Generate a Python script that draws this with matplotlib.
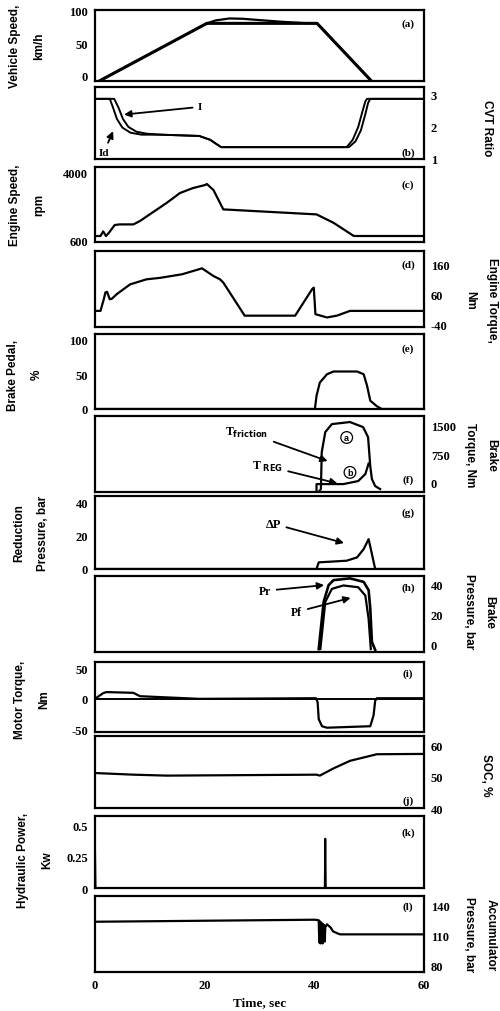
import numpy as np
import matplotlib.pyplot as plt

# -------------------------------------------------------------------
# Data (time in s)
# -------------------------------------------------------------------

# (a) vehicle speed, km/h
speed_ref_t = [1.0, 20.4, 40.5, 50.3]
speed_ref_v = [-7, 80.5, 80.5, -7]
speed_act_t = [1.0, 20.4, 22.0, 24.5, 27.0, 30.0, 34.0, 38.0, 40.5, 50.3]
speed_act_v = [-7, 80.5, 85, 88, 87.5, 85.5, 83, 81, 80.5, -7]

# (b) CVT ratio
cvt_i_t = [0, 3.5, 4.3, 5.1, 6.1, 7.6, 9.5, 12, 19, 21, 23, 46.3, 47.5, 48.5, 49.3, 49.8, 50.2, 60]
cvt_i_v = [2.88, 2.88, 2.6, 2.25, 2.0, 1.85, 1.79, 1.76, 1.72, 1.6, 1.37, 1.37, 1.55, 1.9, 2.4, 2.75, 2.88, 2.88]
cvt_id_t = [0, 2.7, 3.3, 4.0, 5.0, 6.5, 8.5, 12, 19, 21, 23, 45.9, 47.0, 48.0, 48.8, 49.3, 49.6, 60]
cvt_id_v = [2.88, 2.88, 2.6, 2.25, 1.98, 1.82, 1.76, 1.76, 1.72, 1.6, 1.37, 1.37, 1.6, 2.0, 2.5, 2.8, 2.88, 2.88]

# (c) engine speed, rpm
eng_spd_t = [0, 1.0, 1.5, 2.0, 2.5, 3.6, 4.5, 7.0, 8.2, 13.1, 15.5, 17.9, 20.1, 20.4, 21.6, 23.1, 23.4, 40.4, 41.0, 43.5, 47.2, 60]
eng_spd_v = [850, 850, 1080, 850, 1000, 1400, 1430, 1430, 1600, 2510, 3000, 3250, 3400, 3450, 3150, 2340, 2180, 1930, 1850, 1510, 850, 850]

# (d) engine torque, Nm
eng_trq_t = [0, 1.0, 1.6, 1.9, 2.2, 2.7, 3.1, 3.95, 6.4, 9.4, 11.9, 15.9, 19.2, 19.5, 21.6, 22.8, 23.4, 27.3, 36.5, 39.6, 39.9, 40.2, 42.3, 44.1, 46.5, 60]
eng_trq_v = [4, 4, 43, 66, 68, 43, 45, 60, 93, 110, 115, 127, 145, 147, 121, 110, 99, -12, -12, 77, 82, -7, -18, -12, 4, 4]

# (e) brake pedal, %
pedal_t = [0, 40.1, 40.4, 41.0, 42.3, 43.5, 47.8, 49.0, 49.6, 50.2, 51.4, 52.3, 60]
pedal_v = [0, 0, 19, 38, 50, 54, 54, 50, 34, 12, 4, 0, 0]

# (f) brake torque, Nm
t_fric_t = [40.8, 41.2, 41.35, 42.0, 43.2, 46.5, 48.9, 49.8, 50.2, 50.5, 51.1, 52.0]
t_fric_v = [-250, -178, 803, 1335, 1545, 1600, 1465, 1200, 432, 88, -98, -178]
t_reg_t = [40.4, 40.4, 45.3, 48.0, 49.3, 49.9]
t_reg_v = [-250, -45, -45, 35, 220, 500]

# (g) reduction pressure, bar
dp_t = [0, 40.4, 40.8, 45.9, 47.8, 49.0, 49.9, 51.1, 60]
dp_v = [0, 0, 4, 5, 7, 12, 18, 0, 0]

# (h) brake pressure, bar
pr_t = [40.8, 41.7, 42.6, 43.5, 46.5, 49.0, 49.9, 50.2, 50.5, 51.1]
pr_v = [-3.4, 28.5, 39.8, 43.2, 44.4, 42, 36.4, 24, 1.4, -4]
pf_t = [41.1, 42.0, 43.2, 45.3, 48.0, 49.3, 49.9, 50.3]
pf_v = [-3.4, 28.5, 37.3, 39.6, 38.4, 32.8, 17, -3.4]

# (i) motor torque, Nm
mot_t = [0.3, 1.5, 2.1, 7.0, 8.2, 19.0, 40.3, 40.6, 40.8, 41.4, 42.3, 50.2, 50.8, 51.1, 51.4, 60]
mot_v = [2, 9.3, 11, 9.8, 4.3, 0, 1, -5.5, -33, -44.6, -47, -44.6, -27, -3, 1, 1]

# (j) SOC, %
soc_t = [0.3, 7.0, 13.1, 40.4, 41.0, 43.5, 46.5, 51.4, 60]
soc_v = [51.1, 50.6, 50.3, 50.6, 50.3, 52.6, 55, 57.1, 57.2]

# (k) hydraulic power, kW
hyd_t = [0, 0.1, 41.9, 42.0, 42.1, 60]
hyd_v = [0.33, 0, 0, 0.395, 0, 0]

# (l) accumulator pressure, bar
acc_t = [0.3, 40.1, 40.8, 40.9, 41.0, 41.1, 41.2, 41.3, 41.4, 41.5, 41.6, 41.7, 41.8, 41.9,
         42.0, 42.3, 43.0, 43.4, 44.2, 44.7, 60]
acc_v = [123.5, 125.5, 125, 103, 124, 102, 123, 103, 122, 102, 121, 104, 120, 104,
         118, 121, 117.6, 114, 112, 111, 111]

# -------------------------------------------------------------------
# Layout (pixel rows of each panel in a 500x1012 figure)
# -------------------------------------------------------------------
W, H = 500, 1012
X0, X1 = 95, 424
panel_rows = [(11, 82), (88, 160), (168, 243), (252, 328), (335, 410), (417, 493),
              (497, 570), (577, 653), (663, 733), (737, 809), (817, 889), (897, 973)]

tick_font = dict(family="Liberation Serif", weight="bold", size=9)
label_font = dict(family="Liberation Sans", weight="bold", size=8.5)

fig = plt.figure(figsize=(W / 100, H / 100), dpi=100)
axes = []
for top, bot in panel_rows:
    ax = fig.add_axes([X0 / W, 1 - bot / H, (X1 - X0) / W, (bot - top) / H])
    ax.set_xlim(0, 60)
    for s in ax.spines.values():
        s.set_linewidth(1.6)
    ax.tick_params(length=0, pad=5)
    ax.set_xticks([])
    axes.append(ax)


def left_ticks(ax, ticks, labels):
    ax.set_yticks(ticks)
    ax.set_yticklabels(labels, **tick_font)


def right_ticks(ax, ticks, labels):
    ax.yaxis.tick_right()
    ax.set_yticks(ticks)
    ax.set_yticklabels(labels, **tick_font)


def tag(ax, s, y):
    ax.text(0.951, y, s, transform=ax.transAxes, ha="center", va="center",
            family="Liberation Serif", weight="bold", size=8)


lw = 1.6
arrow = dict(arrowstyle="-|>", color="black", lw=1.3, mutation_scale=10)

# (a)
ax = axes[0]
ax.plot(speed_ref_t, speed_ref_v, color="black", lw=2.2)
ax.plot(speed_act_t, speed_act_v, color="black", lw=1.6)
ax.set_ylim(-8, 101)
left_ticks(ax, [0, 50, 100], ["0", "50", "100"])
tag(ax, "(a)", 0.82)

# (b)
ax = axes[1]
ax.plot(cvt_i_t, cvt_i_v, color="black", lw=1.4)
ax.plot(cvt_id_t, cvt_id_v, color="black", lw=1.4)
ax.set_ylim(1.0, 3.25)
right_ticks(ax, [1, 2, 3], ["1", "2", "3"])
tag(ax, "(b)", 0.1)
ax.annotate("I", xy=(4.8, 2.38), xytext=(19.2, 2.63), ha="center", va="center",
            family="Liberation Serif", weight="bold", size=8, arrowprops=arrow)
ax.annotate("Id", xy=(3.5, 1.95), xytext=(1.6, 1.2), ha="center", va="center",
            family="Liberation Serif", weight="bold", size=8, arrowprops=arrow)

# (c)
ax = axes[2]
ax.plot(eng_spd_t, eng_spd_v, color="black", lw=lw)
ax.set_ylim(550, 4300)
left_ticks(ax, [600, 4000], ["600", "4000"])
tag(ax, "(c)", 0.77)

# (d)
ax = axes[3]
ax.plot(eng_trq_t, eng_trq_v, color="black", lw=lw)
ax.set_ylim(-50, 205)
right_ticks(ax, [-40, 60, 160], ["-40", "60", "160"])
tag(ax, "(d)", 0.83)

# (e)
ax = axes[4]
ax.plot(pedal_t, pedal_v, color="black", lw=lw)
ax.set_ylim(0, 108)
left_ticks(ax, [0, 50, 100], ["0", "50", "100"])
tag(ax, "(e)", 0.81)

# (f)
ax = axes[5]
ax.plot(t_fric_t, t_fric_v, color="black", lw=lw)
ax.plot(t_reg_t, t_reg_v, color="black", lw=lw)
ax.set_ylim(-255, 1760)
right_ticks(ax, [0, 750, 1500], ["0", "750", "1500"])
tag(ax, "(f)", 0.17)
ax.annotate(r"T$_{\mathbf{friction}}$", xy=(42.9, 540), xytext=(27.7, 1333),
            ha="center", va="center", family="Liberation Serif", weight="bold",
            size=8.5, arrowprops=arrow)
ax.annotate(r"T $_{\mathbf{REG}}$", xy=(44.7, -45), xytext=(31.4, 432),
            ha="center", va="center", family="Liberation Serif", weight="bold",
            size=8.5, arrowprops=arrow)
circ = dict(boxstyle="circle,pad=0.15", fc="white", ec="black", lw=0.9)
ax.text(45.9, 1190, "a", ha="center", va="center", size=6.5, weight="bold",
        family="Liberation Sans", bbox=circ)
ax.text(46.5, 265, "b", ha="center", va="center", size=6.5, weight="bold",
        family="Liberation Sans", bbox=circ)

# (g)
ax = axes[6]
ax.plot(dp_t, dp_v, color="black", lw=lw)
ax.set_ylim(0, 44)
left_ticks(ax, [0, 20, 40], ["0", "20", "40"])
tag(ax, "(g)", 0.78)
ax.annotate("\u0394P", xy=(45.9, 15.2), xytext=(32.5, 27.3), ha="center", va="center",
            family="Liberation Serif", weight="bold", size=9, arrowprops=arrow)

# (h)
ax = axes[7]
ax.plot(pr_t, pr_v, color="black", lw=1.9)
ax.plot(pf_t, pf_v, color="black", lw=lw)
ax.set_ylim(-5.4, 46)
right_ticks(ax, [0, 20, 40], ["0", "20", "40"])
tag(ax, "(h)", 0.855)
ax.annotate("Pr", xy=(42.3, 40), xytext=(31, 36), ha="center", va="center",
            family="Liberation Serif", weight="bold", size=8.5, arrowprops=arrow)
ax.annotate("Pf", xy=(47.1, 31.7), xytext=(36.8, 21.7), ha="center", va="center",
            family="Liberation Serif", weight="bold", size=8.5, arrowprops=arrow)

# (i)
ax = axes[8]
ax.axhline(0, color="black", lw=1.4)
ax.plot(mot_t, mot_v, color="black", lw=lw)
ax.set_ylim(-54, 60)
left_ticks(ax, [-50, 0, 50], ["-50", "0", "50"])
tag(ax, "(i)", 0.84)

# (j)
ax = axes[9]
ax.plot(soc_t, soc_v, color="black", lw=lw)
ax.set_ylim(40, 62.9)
right_ticks(ax, [40, 50, 60], ["40", "50", "60"])
tag(ax, "(j)", 0.11)

# (k)
ax = axes[10]
ax.plot(hyd_t, hyd_v, color="black", lw=1.4)
ax.set_ylim(0, 0.577)
left_ticks(ax, [0, 0.25, 0.5], ["0", "0.25", "0.5"])
tag(ax, "(k)", 0.78)

# (l)
ax = axes[11]
ax.plot(acc_t, acc_v, color="black", lw=lw)
ax.set_ylim(73.7, 149)
right_ticks(ax, [80, 110, 140], ["80", "110", "140"])
tag(ax, "(l)", 0.87)
ax.set_xticks([0, 20, 40, 60])
ax.set_xticklabels(["0", "20", "40", "60"], **tick_font)
ax.set_xlabel("Time, sec", family="Liberation Serif", weight="bold", size=9.5, labelpad=4)

# -------------------------------------------------------------------
# Side labels
# -------------------------------------------------------------------
left_labels = [
    ("Vehicle Speed,\nkm/h", 27, 46),
    ("Engine Speed,\nrpm", 27, 205),
    ("Brake Pedal,\n%", 25, 375),
    ("Reduction\nPressure, bar", 31, 533),
    ("Motor Torque,\nNm", 32, 700),
    ("Hydraulic Power,\nKw", 35, 860),
]
for s, x, y in left_labels:
    fig.text(x / W, 1 - y / H, s, rotation=90, ha="center", va="center",
             multialignment="center", linespacing=2.3, **label_font)

right_labels = [
    ("CVT Ratio", 487, 128),
    ("Engine Torque,\nNm", 481, 300),
    ("Brake\nTorque, Nm", 481, 455),
    ("Brake\nPressure, bar", 479, 612),
    ("SOC, %", 486, 775),
    ("Accumulator\nPressure, bar", 480, 935),
]
for s, x, y in right_labels:
    fig.text(x / W, 1 - y / H, s, rotation=270, ha="center", va="center",
             multialignment="center", linespacing=2.0, **label_font)

fig.savefig("out.png", dpi=100)
